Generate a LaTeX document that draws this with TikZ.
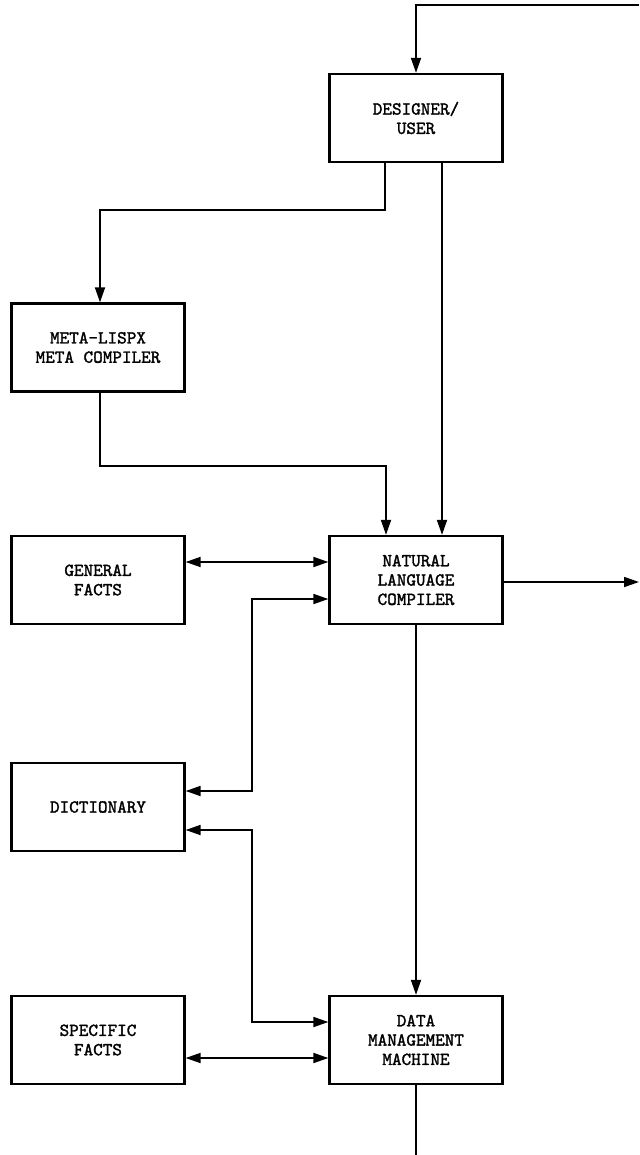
\documentclass[tikz,border=0pt]{standalone}
\usepackage{fontspec}
\newfontfamily\boxfont{Latin Modern Mono}[FakeBold=1.6]
\usepackage{tikz}
\usetikzlibrary{arrows.meta,positioning,calc}

\begin{document}
\begin{tikzpicture}[
    >={Triangle[length=3mm,width=2mm]},
    unit/.style={draw, line width=1.3pt, fill=white, align=center, font=\boxfont\bfseries\fontsize{10.4}{11}\selectfont, minimum width=3.46cm, minimum height=1.76cm, inner sep=2pt},
    arrow/.style={->, line width=1pt},
    twoway/.style={<->, line width=1pt},
    wire/.style={line width=1pt}
]
    \useasboundingbox (0,0) rectangle (12.78,-23.1);

    % Centre column
    \node[unit] (designer) at (8.32,-2.36) {DESIGNER/\\USER};
    \node[unit] (nlc) at (8.32,-11.6) {NATURAL\\LANGUAGE\\COMPILER};
    \node[unit] (dmm) at (8.32,-20.8) {DATA\\MANAGEMENT\\MACHINE};

    % Left column
    \node[unit] (meta) at (1.96,-6.95) {META-LISPX\\META COMPILER};
    \node[unit] (general) at (1.96,-11.6) {GENERAL\\FACTS};
    \node[unit] (dict) at (1.96,-16.14) {DICTIONARY};
    \node[unit] (specific) at (1.96,-20.8) {SPECIFIC\\FACTS};

    % Loose ends at the edges
    \coordinate (fbin) at (12.78,-0.1);
    \coordinate (nlcout) at (12.78,-11.64);
    \coordinate (dmmout) at (8.32,-23.1);

    % Flow from the designer
    \draw[arrow] (fbin) -| (designer.north);
    \draw[arrow] ([xshift=-0.62cm]designer.south) -- ++(0,-0.94) -| ([xshift=0.04cm]meta.north);
    \draw[arrow] ([xshift=0.52cm]designer.south) -- ([xshift=0.52cm]nlc.north);
    \draw[arrow] ([xshift=0.04cm]meta.south) -- ++(0,-1.46) -| ([xshift=-0.6cm]nlc.north);

    % Compiler links
    \draw[twoway] ([yshift=0.36cm]general.east) -- ([yshift=0.36cm]nlc.west);
    \draw[arrow] ([yshift=-0.04cm]nlc.east) -- (nlcout);
    \draw[twoway] ([yshift=0.32cm]dict.east) -| ($(nlc.west)+(-1.52,-0.38)$) -- ([yshift=-0.38cm]nlc.west);
    \draw[arrow] (nlc.south) -- (dmm.north);

    % Data management links
    \draw[twoway] ([yshift=-0.46cm]dict.east) -| ($(dmm.west)+(-1.52,0.36)$) -- ([yshift=0.36cm]dmm.west);
    \draw[twoway] ([yshift=-0.36cm]specific.east) -- ([yshift=-0.36cm]dmm.west);
    \draw[wire] (dmm.south) -- (dmmout);

\end{tikzpicture}
\end{document}
